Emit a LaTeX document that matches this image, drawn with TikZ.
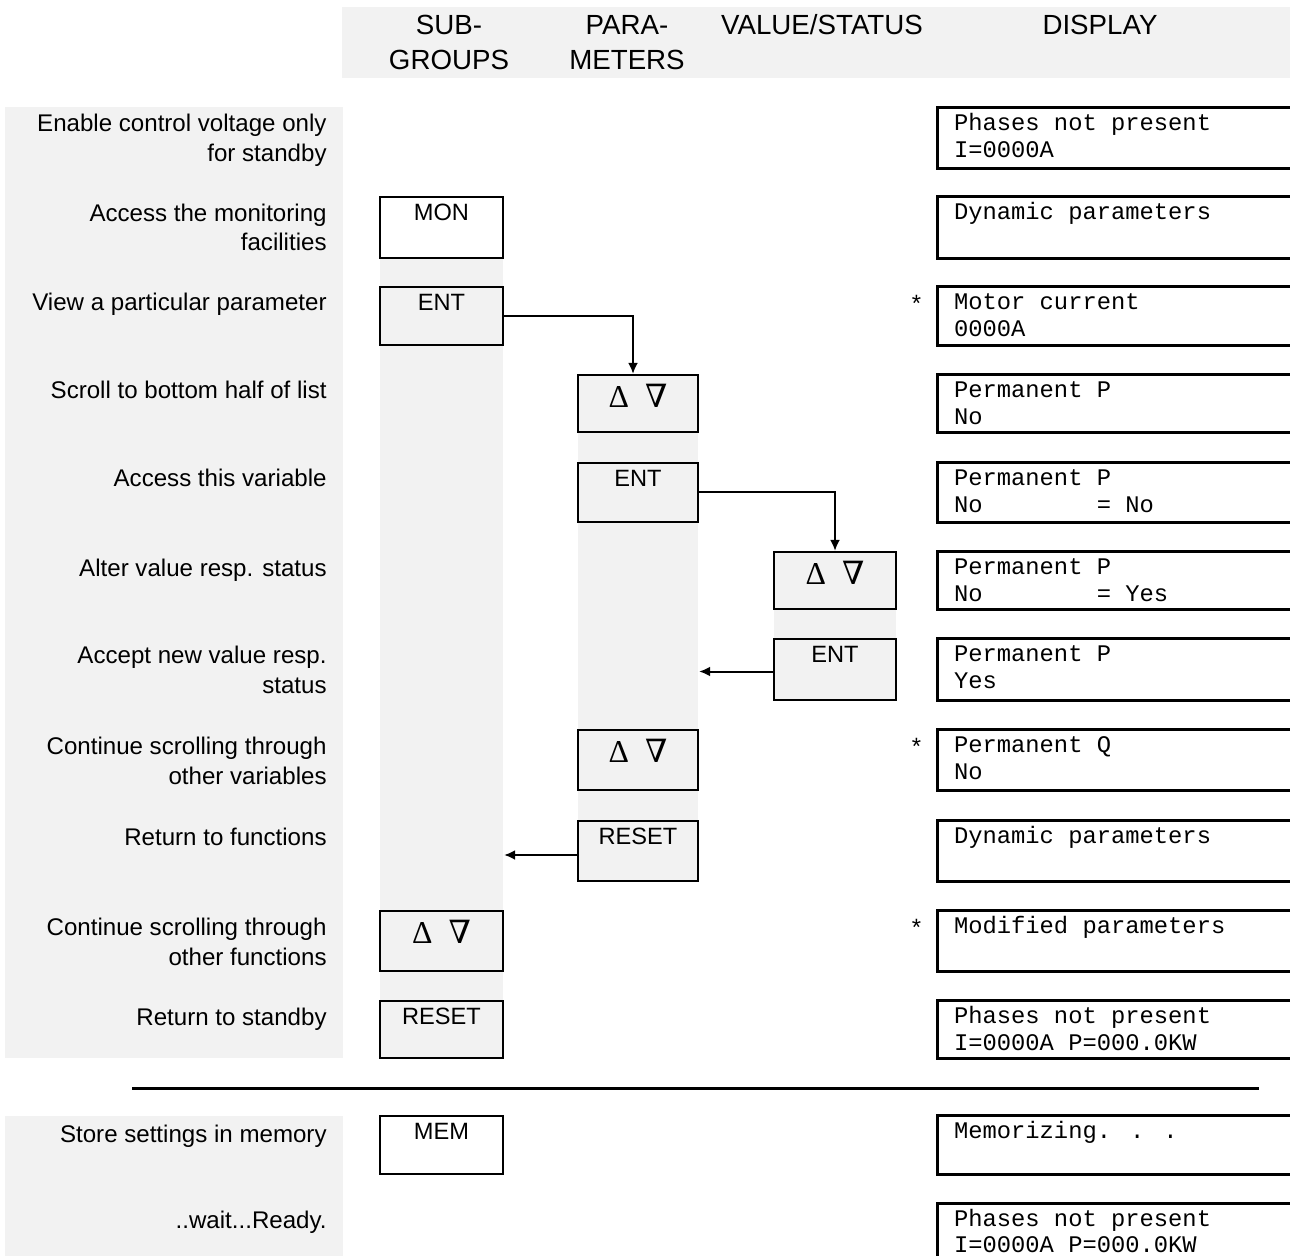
\documentclass[tikz,border=0pt]{standalone}
\usepackage[no-math]{fontspec}
\setmainfont{Liberation Sans}
\newfontfamily\dispfont{Liberation Mono}
\newfontfamily\symfont{Liberation Serif}
\newfontfamily\nablafont{DejaVu Serif}
\usetikzlibrary{fit,calc,arrows.meta}
\definecolor{bg}{HTML}{F2F2F2}
\tikzset{
  lbl/.style={anchor=base east, inner sep=0, font=\fontsize{12.05}{14}\selectfont},
  hdr/.style={anchor=base, inner sep=0, font=\fontsize{13.85}{17}\selectfont},
  mono/.style={anchor=base west, inner sep=0, font=\dispfont\fontsize{11.9}{14}\selectfont},
  keybox/.style={draw, line width=1.15pt, inner sep=0, fill=bg},
  keywhite/.style={keybox, fill=white},
  keytxt/.style={anchor=base, inner sep=0, font=\fontsize{11.8}{14}\selectfont},
  symtxt/.style={anchor=base, inner sep=0, font=\symfont\fontsize{15.9}{18}\selectfont},
  dline/.style={line width=1.15pt},
  conn/.style={line width=1pt, -{Latex[length=5.5pt,width=5pt]}},
  band/.style={fill=bg, draw=none}
}
\newcommand\dispbox[3]{%
  \node[inner sep=0, fit={(938,#2)(1300,#3)}] (#1) {};
  \draw[dline] (#1.north east) -- (#1.north west) -- (#1.south west) -- (#1.south east);}
\newcommand\updown{Δ\hspace{8pt}{\nablafont\fontsize{16}{18}\selectfont ∇}}
\begin{document}
\begin{tikzpicture}[x=0.5pt,y=-0.5pt]
\useasboundingbox (0,0) rectangle (1290,1256);
% background bands
\fill[band] (342,7) rectangle (1290,78);
\fill[band] (5,107) rectangle (343,1058);
\fill[band] (5,1116) rectangle (343,1260);
\fill[band] (380,258) rectangle (503,1058);
\fill[band] (578,375) rectangle (698,881);
\fill[band] (774,552) rectangle (896,700);
% header
\node[hdr] (h1a) at (449,35) {SUB-};
\node[hdr] (h1b) at (449,70) {GROUPS};
\node[hdr] (h2a) at (627,35) {PARA-};
\node[hdr] (h2b) at (627,70) {METERS};
\node[hdr] (h3) at (822,35) {VALUE/STATUS};
\node[hdr] (h4) at (1100,35) {DISPLAY};
% left labels
\node[lbl] (l1a) at (327,132) {Enable control voltage only};
\node[lbl] (l1b) at (327,162) {for standby};
\node[lbl] (l2a) at (327,222) {Access the monitoring};
\node[lbl] (l2b) at (327,251) {facilities};
\node[lbl] (l3) at (327,311) {View a particular parameter};
\node[lbl] (l4) at (327,399) {Scroll to bottom half of list};
\node[lbl] (l5) at (327,487) {Access this variable};
\node[lbl] (l6) at (327,576) {Alter value resp. status};
\node[lbl] (l7a) at (327,663) {Accept new value resp.};
\node[lbl] (l7b) at (327,693) {status};
\node[lbl] (l8a) at (327,754) {Continue scrolling through};
\node[lbl] (l8b) at (327,784) {other variables};
\node[lbl] (l9) at (327,845) {Return to functions};
\node[lbl] (l10a) at (327,935) {Continue scrolling through};
\node[lbl] (l10b) at (327,965) {other functions};
\node[lbl] (l11) at (327,1025) {Return to standby};
\node[lbl] (l12) at (327,1142) {Store settings in memory};
\node[lbl] (l13) at (327,1228) {..wait...Ready.};
% key boxes: sub-groups
\node[keywhite, fit={(380,197)(503,258)}] (smon) {};
\node[keybox, fit={(380,287)(503,345)}] (sent) {};
\node[keybox, fit={(380,911)(503,971)}] (sud) {};
\node[keybox, fit={(380,1001)(503,1058)}] (sres) {};
\node[keywhite, fit={(380,1116)(503,1174)}] (smem) {};
% parameters
\node[keybox, fit={(578,375)(698,432)}] (pud1) {};
\node[keybox, fit={(578,463)(698,522)}] (pent) {};
\node[keybox, fit={(578,730)(698,790)}] (pud2) {};
\node[keybox, fit={(578,821)(698,881)}] (pres) {};
% value/status
\node[keybox, fit={(774,552)(896,609)}] (vud) {};
\node[keybox, fit={(774,639)(896,700)}] (vent) {};
% key texts
\node[keytxt] (tsmon) at ($(smon.north)+(0,25)$) {MON};
\node[keytxt] (tsent) at ($(sent.north)+(0,25)$) {ENT};
\node[symtxt] (tsud) at ($(sud.north)+(0,34)$) {\updown};
\node[keytxt] (tsres) at ($(sres.north)+(0,25)$) {RESET};
\node[keytxt] (tsmem) at ($(smem.north)+(0,25)$) {MEM};
\node[symtxt] (tpud1) at ($(pud1.north)+(0,34)$) {\updown};
\node[keytxt] (tpent) at ($(pent.north)+(0,25)$) {ENT};
\node[symtxt] (tpud2) at ($(pud2.north)+(0,34)$) {\updown};
\node[keytxt] (tpres) at ($(pres.north)+(0,25)$) {RESET};
\node[symtxt] (tvud) at ($(vud.north)+(0,34)$) {\updown};
\node[keytxt] (tvent) at ($(vent.north)+(0,25)$) {ENT};
% connectors
\draw[conn] (sent.east) -| ($(pud1.north)+(-5,0)$);
\draw[conn] (pent.east) -| (vud.north);
\draw[conn] ($(vent.west)+(0,2)$) -- ($(vent.west -| pent.east)+(0,2)$);
\draw[conn] ($(pres.west)+(0,4)$) -- ($(pres.west -| sent.east)+(0,4)$);
% separator rule
\coordinate (ra) at (132,1088);
\coordinate (rb) at (1259,1088);
\draw[line width=1.5pt] (ra) -- (rb);
% display boxes
\dispbox{d1}{108}{168}
\dispbox{d2}{197}{258}
\dispbox{d3}{287}{345}
\dispbox{d4}{375}{432}
\dispbox{d5}{463}{522}
\dispbox{d6}{552}{609}
\dispbox{d7}{639}{700}
\dispbox{d8}{730}{790}
\dispbox{d9}{821}{881}
\dispbox{d10}{911}{971}
\dispbox{d11}{1001}{1058}
\dispbox{d12}{1116}{1174}
\dispbox{d13}{1204}{1266}
% display texts
\node[mono] (t1a) at ($(d1.north west)+(16,23)$) {Phases not present};
\node[mono] (t1b) at ($(d1.north west)+(16,50)$) {I=0000A};
\node[mono] (t2a) at ($(d2.north west)+(16,23)$) {Dynamic parameters};
\node[mono] (t3a) at ($(d3.north west)+(16,23)$) {Motor current};
\node[mono] (t3b) at ($(d3.north west)+(16,50)$) {0000A};
\node[mono] (t4a) at ($(d4.north west)+(16,23)$) {Permanent P};
\node[mono] (t4b) at ($(d4.north west)+(16,50)$) {No};
\node[mono] (t5a) at ($(d5.north west)+(16,23)$) {Permanent P};
\node[mono] (t5b) at ($(d5.north west)+(16,50)$) {No\ \ \ \ \ \ \ \ = No};
\node[mono] (t6a) at ($(d6.north west)+(16,23)$) {Permanent P};
\node[mono] (t6b) at ($(d6.north west)+(16,50)$) {No\ \ \ \ \ \ \ \ = Yes};
\node[mono] (t7a) at ($(d7.north west)+(16,23)$) {Permanent P};
\node[mono] (t7b) at ($(d7.north west)+(16,50)$) {Yes};
\node[mono] (t8a) at ($(d8.north west)+(16,23)$) {Permanent Q};
\node[mono] (t8b) at ($(d8.north west)+(16,50)$) {No};
\node[mono] (t9a) at ($(d9.north west)+(16,23)$) {Dynamic parameters};
\node[mono] (t10a) at ($(d10.north west)+(16,23)$) {Modified parameters};
\node[mono] (t11a) at ($(d11.north west)+(16,23)$) {Phases not present};
\node[mono] (t11b) at ($(d11.north west)+(16,50)$) {I=0000A P=000.0KW};
\node[mono] (t12a) at ($(d12.north west)+(16,23)$) {Memorizing. . .};
\node[mono] (t13a) at ($(d13.north west)+(16,23)$) {Phases not present};
\node[mono] (t13b) at ($(d13.north west)+(16,49)$) {I=0000A P=000.0KW};
% asterisks
\node[mono, anchor=base] (s3) at ($(d3.north west)+(-21,26)$) {*};
\node[mono, anchor=base] (s8) at ($(d8.north west)+(-21,26)$) {*};
\node[mono, anchor=base] (s10) at ($(d10.north west)+(-21,26)$) {*};
\end{tikzpicture}
\end{document}
